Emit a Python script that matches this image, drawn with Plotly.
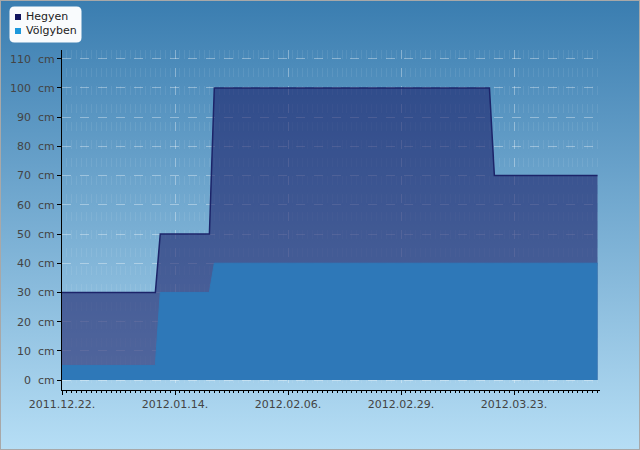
import base64
import plotly.graph_objects as go

# ---- data (breakpoints) ----
hegyen_dates = ["2011-12-22", "2012-01-10", "2012-01-11", "2012-01-21", "2012-01-22",
                "2012-03-18", "2012-03-19", "2012-04-09"]
hegyen_cm = [30, 30, 50, 50, 100, 100, 70, 70]

volgyben_dates = ["2011-12-22", "2012-01-10", "2012-01-11", "2012-01-21", "2012-01-22",
                  "2012-04-09"]
volgyben_cm = [5, 5, 30, 30, 40, 40]

series_names = ["Hegyen", "Völgyben"]
legend_colors = ["#12155e", "#1c98dc"]
y_ticks = list(range(0, 120, 10))
y_ticktext = [f"{v}\u00a0\u00a0cm" for v in y_ticks]

W, H = 640, 450
L, R, T, B = 62, 40, 50, 60
PW, PH = W - L - R, H - T - B


def px(x):
    return (x - L) / PW


def py(y):
    return 1 - (y - T) / PH


svg = f'''<svg xmlns="http://www.w3.org/2000/svg" width="{W}" height="{H}" viewBox="0 0 {W} {H}" preserveAspectRatio="none">
<defs><linearGradient id="g" x1="0" y1="0" x2="0" y2="1">
<stop offset="0" stop-color="#3a7db0"/><stop offset="1" stop-color="#b6def5"/></linearGradient></defs>
<rect x="0" y="0" width="{W}" height="{H}" fill="url(#g)"/>
<rect x="0.5" y="0.5" width="{W-1}" height="{H-1}" fill="none" stroke="#a8a8a8" stroke-width="1"/>
</svg>'''
src = "data:image/svg+xml;base64," + base64.b64encode(svg.encode()).decode()

fig = go.Figure()
fig.add_trace(go.Scatter(
    x=hegyen_dates, y=hegyen_cm, name=series_names[0], mode="lines",
    line=dict(color="rgb(28,36,105)", width=1.5),
    fill="tozeroy", fillcolor="rgba(27,32,105,0.6)", showlegend=False,
))
fig.add_trace(go.Scatter(
    x=volgyben_dates, y=volgyben_cm, name=series_names[1], mode="lines",
    line=dict(color="rgb(46,120,184)", width=1),
    fill="tozeroy", fillcolor="rgb(46,120,184)", showlegend=False,
))

# legend box drawn as shapes + annotations
bx0, by0, bx1, by1, rr = 9.5, 6.5, 81.5, 42.5, 5
path = (f"M {px(bx0+rr)},{py(by0)} L {px(bx1-rr)},{py(by0)} Q {px(bx1)},{py(by0)} {px(bx1)},{py(by0+rr)} "
        f"L {px(bx1)},{py(by1-rr)} Q {px(bx1)},{py(by1)} {px(bx1-rr)},{py(by1)} "
        f"L {px(bx0+rr)},{py(by1)} Q {px(bx0)},{py(by1)} {px(bx0)},{py(by1-rr)} "
        f"L {px(bx0)},{py(by0+rr)} Q {px(bx0)},{py(by0)} {px(bx0+rr)},{py(by0)} Z")
shapes = [dict(type="path", xref="paper", yref="paper", path=path,
               fillcolor="rgba(255,255,255,0.97)", line=dict(width=0), layer="above")]
annotations = []
for i, (name, col) in enumerate(zip(series_names, legend_colors)):
    cy = 17 + i * 14
    shapes.append(dict(type="rect", xref="paper", yref="paper",
                       x0=px(15), x1=px(21), y0=py(cy - 3), y1=py(cy + 3),
                       fillcolor=col, line=dict(width=0), layer="above"))
    annotations.append(dict(xref="paper", yref="paper", x=px(23.5), y=py(cy),
                            xanchor="left", yanchor="middle", text=name, showarrow=False,
                            font=dict(family="DejaVu Sans", size=11, color="#222222")))

DAY = 86400000
fig.update_layout(
    width=W, height=H,
    margin=dict(l=L, r=R, t=T, b=B, autoexpand=False),
    paper_bgcolor="rgba(0,0,0,0)", plot_bgcolor="rgba(0,0,0,0)",
    font=dict(family="DejaVu Sans", size=11, color="#444444"),
    showlegend=False,
    images=[dict(source=src, xref="paper", yref="paper",
                 x=-L / PW, y=1 + T / PH, sizex=W / PW, sizey=H / PH,
                 xanchor="left", yanchor="top", sizing="stretch", layer="below")],
    shapes=shapes,
    annotations=annotations,
    xaxis=dict(
        type="date",
        range=["2011-12-22", "2012-04-09 12:00"],
        tick0="2011-12-22", dtick=23 * DAY, tickformat="%Y.%m.%d.",
        showline=True, linecolor="black", linewidth=1,
        ticks="outside", ticklen=4, tickcolor="black", automargin=False,
        showgrid=True, gridcolor="rgba(255,255,255,0.35)", griddash="dash", gridwidth=1,
        minor=dict(dtick=DAY, ticks="outside", ticklen=2, tickcolor="black",
                   showgrid=True, gridcolor="rgba(255,255,255,0.08)", griddash="dash"),
        zeroline=False,
    ),
    yaxis=dict(
        range=[-3.4, 113],
        tickmode="array", tickvals=y_ticks, ticktext=y_ticktext,
        showline=True, linecolor="black", linewidth=1,
        ticks="outside", ticklen=4, tickcolor="black", automargin=False,
        showgrid=True, gridcolor="rgba(255,255,255,0.35)", griddash="dash", gridwidth=1,
        zeroline=False,
    ),
)

fig.write_html("out.html")
